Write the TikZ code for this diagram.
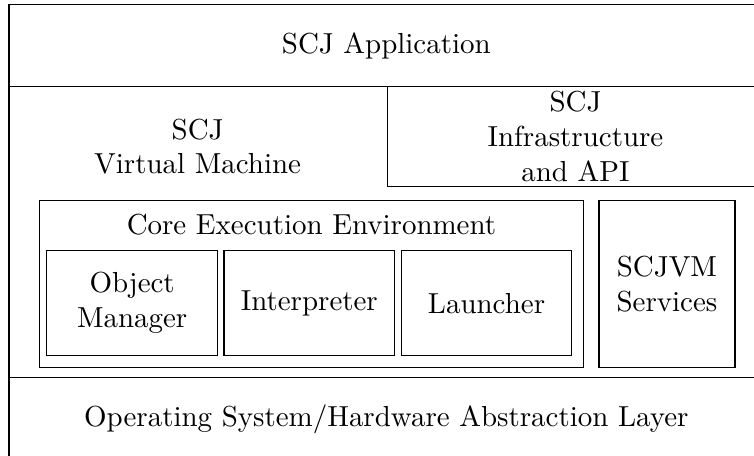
\documentclass[tikz,border=0pt]{standalone}
\usepackage{tikz}
\usetikzlibrary{positioning}
\tikzset{
  layer/.style={rectangle,draw=black,anchor=north west,
    inner sep=0pt,align=center},
  comp/.style={rectangle,draw=black,
    minimum width=58.9pt,minimum height=36.3pt,
    inner sep=0pt,align=center},
  svc/.style={rectangle,draw=black,
    minimum width=47pt,minimum height=57.75pt,
    inner sep=0pt,align=center},
  lbl/.style={inner sep=0pt,align=center},
}

\begin{document}
\begin{tikzpicture}[x=0.3454pt,y=-0.3454pt,node distance=1.9pt]
  \clip (0,0) rectangle (754,456);

  % --- Layers (top to bottom) ---
  \node (app) [layer,minimum width=260.6pt,minimum height=28.3pt]
    at (8.5,4) {SCJ Application};
  \node (vm)  [layer,minimum width=260.6pt,minimum height=100.4pt]
    at (8.5,86) {};
  \node (os)  [layer,minimum width=260.6pt,minimum height=28.8pt]
    at (8.5,376.7) {Operating System/Hardware Abstraction Layer};

  % --- Virtual machine layer ---
  \node (vmlbl) [lbl] at (197.6,146.7) {SCJ\\Virtual Machine};
  \node (infra) [layer,minimum width=130pt,minimum height=34.5pt]
    at (386.7,86) {SCJ\\Infrastructure\\and API};

  % --- Core execution environment ---
  \node (core) [layer,minimum width=187.8pt,minimum height=57.7pt]
    at (39,200) {};
  \node (corelbl) [lbl,below=4.8pt of core.north]
    {Core Execution Environment};
  \node (om)     [comp,anchor=north west] at (46.3,250) {Object\\Manager};
  \node (interp) [comp,right=of om]     {Interpreter};
  \node (launch) [comp,right=of interp] {Launcher};

  % services beside the core box
  \node (svc) [svc,right=5pt of core] {SCJVM\\Services};
\end{tikzpicture}
\end{document}
